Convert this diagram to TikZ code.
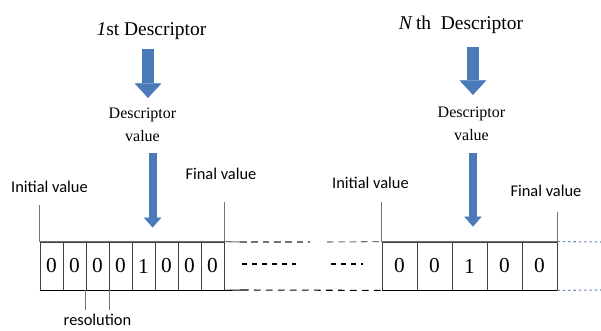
\documentclass[tikz,border=0pt]{standalone}
\usepackage{fontspec}
\setmainfont{Liberation Serif}
\newfontfamily\labelfont{Carlito}
\usetikzlibrary{arrows.meta}
\definecolor{descblue}{RGB}{74,122,184}
\definecolor{dotblue}{RGB}{110,140,175}

\begin{document}
\begin{tikzpicture}[x=0.75pt,y=-0.75pt,
  cell/.style={draw=black!75, line width=0.6pt, minimum height=36pt, inner sep=0pt, font=\fontsize{16}{16}\selectfont},
  title/.style={inner sep=0pt, anchor=base, font=\fontsize{14.6}{17}\selectfont},
  value/.style={inner sep=0pt, anchor=north, align=center, font=\fontsize{12}{17}\selectfont},
  lab/.style={inner sep=0pt, anchor=base, font=\labelfont\fontsize{12.3}{14}\selectfont},
  tick/.style={draw=black!55, line width=0.5pt},
  bigarrow/.style={draw=descblue, line width=8.5pt, -{Triangle[width=20pt,length=11pt,line width=0.4pt]}},
  smallarrow/.style={draw=descblue, line width=6pt, -{Triangle[width=13pt,length=7.5pt,line width=0.4pt]}}]

	\useasboundingbox (0,0) rectangle (601,331);

	\node[title] (t1) at (151.5,36) {\textit{1}st Descriptor};
	\node[title] (tN) at (461,30) {\textit{N}\,th\enspace Descriptor};
	\node[value] (v1) at (142.5,108) {Descriptor\\value};
	\node[value] (v2) at (471.5,107) {Descriptor\\value};

	\foreach \d [count=\i] in {0,0,0,0,1,0,0,0}
		\node[cell, minimum width=17.25pt] (a\i) at ({28.5+23*\i},266) {\d};
	\foreach \d [count=\i] in {0,0,1,0,0}
		\node[cell, minimum width=26.25pt] (b\i) at ({364.5+35*\i},266) {\d};

	\draw[black!55, line width=0.8pt] (a1.north west) -- (a8.north east);
	\draw[black, line width=0.8pt] (a1.south west) -- (a8.south east);
	\draw[black!55, line width=0.8pt] (b1.north west) -- (b5.north east);
	\draw[black, line width=0.8pt] (b1.south west) -- (b5.south east);

	\node[lab] (i1) at (49.5,193) {Initial value};
	\node[lab] (f1) at (221,180) {Final value};
	\node[lab] (res) at (97.5,326) {resolution};
	\node[lab] (i2) at (370.5,189) {Initial value};
	\node[lab] (f2) at (546,197) {Final value};

	\draw[tick, shorten <=9pt] (i1.south -| a1.north west) -- (a1.north west);
	\draw[tick, shorten <=16.5pt] (f1.south -| a8.north east) -- (a8.north east);
	\draw[tick, shorten <=9.75pt] (i2.south -| b1.north west) -- (b1.north west);
	\draw[tick, shorten <=11.25pt] (f2.south -| b5.north east) -- (b5.north east);
	\draw[tick, shorten >=3.4pt] (a3.south west) -- (a3.south west |- res.north);
	\draw[tick, shorten >=3.4pt] (a3.south east) -- (a3.south east |- res.north);

	\draw[bigarrow, shorten <=6.6pt, shorten >=7.5pt] ([xshift=-2.6pt]t1.south) -- ([xshift=-2.6pt]t1.south |- v1.north);
	\draw[smallarrow, shorten <=8.25pt, shorten >=10.5pt] ([xshift=-1.5pt]v1.south -| a6.north west) -- ([xshift=-1.5pt]a6.north west);
	\draw[bigarrow, shorten <=9.6pt, shorten >=9pt] ([xshift=2.6pt]b3.north |- tN.south) -- ([xshift=2.6pt]b3.north |- v2.north);
	\draw[smallarrow, shorten <=9.3pt, shorten >=11.25pt] ([xshift=2.6pt]b3.north |- v2.south) -- ([xshift=2.6pt]b3.north);

	% gap between the two descriptors
	\draw[black!55, line width=0.8pt] (a8.north east) -- (240,242);
	\draw[black!55, line width=0.8pt, dash pattern=on 5pt off 3.5pt] (240,242) -- (310,242);
	\draw[black!55, line width=0.8pt, dash pattern=on 5pt off 3.5pt] (327,242) -- (b1.north west);
	\draw[line width=1.2pt, dash pattern=on 4pt off 3.5pt] (242,264) -- (296,264);
	\draw[line width=1.2pt, dash pattern=on 4pt off 3.5pt] (331,264) -- (363,264);
	\draw[line width=0.8pt] (a8.south east) -- (242,290);
	\draw[line width=0.8pt, dash pattern=on 5pt off 4pt] (242,290) -- (b1.south west);
	\draw[dotblue, line width=0.8pt, dash pattern=on 2pt off 2pt] (b5.north east) -- (601,242);
	\draw[dotblue, line width=0.8pt, dash pattern=on 2pt off 2pt] (b5.south east) -- (601,290);

\end{tikzpicture}
\end{document}
